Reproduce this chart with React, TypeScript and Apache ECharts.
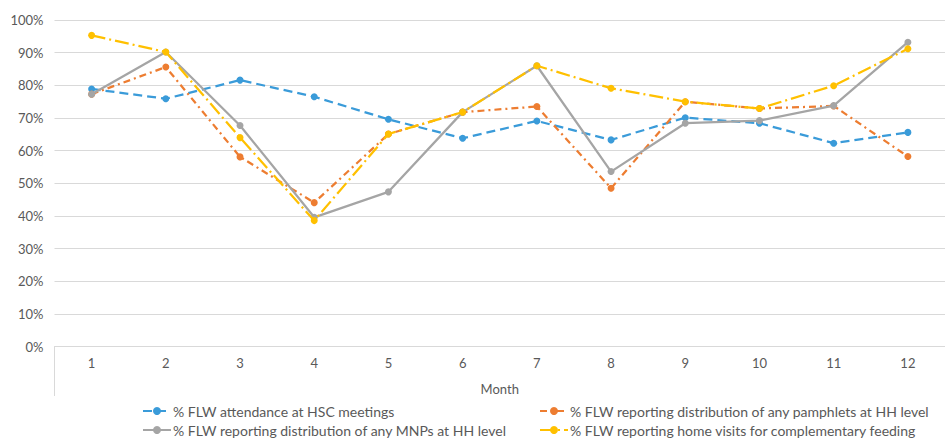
import React, { useEffect, useRef } from "react";
import * as echarts from "echarts";

const months = ["1", "2", "3", "4", "5", "6", "7", "8", "9", "10", "11", "12"];
const seriesNames = [
  "% FLW attendance at HSC meetings",
  "% FLW reporting distribution of any pamphlets at HH level",
  "% FLW reporting distribution of any MNPs at HH level",
  "% FLW reporting home visits for complementary feeding",
];
const hscAttendance = [0.789, 0.759, 0.816, 0.765, 0.696, 0.638, 0.691, 0.633, 0.701, 0.684, 0.623, 0.656];
const pamphlets = [0.773, 0.856, 0.581, 0.441, 0.651, 0.718, 0.735, 0.485, 0.75, 0.729, 0.737, 0.582];
const mnps = [0.773, 0.902, 0.677, 0.396, 0.474, 0.718, 0.86, 0.536, 0.684, 0.692, 0.738, 0.932];
const homeVisits = [0.953, 0.902, 0.64, 0.386, 0.651, 0.718, 0.86, 0.791, 0.75, 0.729, 0.799, 0.912];

const colors = ["#3a9bd9", "#ed7d31", "#a5a5a5", "#ffc000"];
const dashes: any[] = [[9, 5], [7, 4, 2, 4], "solid", [14, 4, 2, 4]];
const values = [hscAttendance, pamphlets, mnps, homeVisits];

export default function App() {
  const ref = useRef<HTMLDivElement>(null);
  useEffect(() => {
    if (!ref.current) return;
    const chart = echarts.init(ref.current, null, { renderer: "svg" });
    const font = "Lato, 'Open Sans', sans-serif";
    const legendCommon = {
      orient: "vertical",
      top: 404,
      height: 60,
      itemGap: 5,
      itemWidth: 28,
      itemHeight: 10,
      padding: 0,
      textStyle: { color: "#595959", fontSize: 14, fontFamily: font, padding: [0, 0, 0, -3] },
    };
    chart.setOption({
      animation: false,
      textStyle: { fontFamily: font },
      grid: { left: 54.5, right: -13, top: 20, bottom: 93.3, containLabel: false },
      legend: [
        { ...legendCommon, data: [seriesNames[0], seriesNames[2]], left: 142 },
        { ...legendCommon, data: [seriesNames[1], seriesNames[3]], left: 539 },
      ],
      xAxis: {
        type: "category",
        data: months,
        boundaryGap: true,
        name: "Month",
        nameLocation: "middle",
        nameGap: 36,
        nameTextStyle: { color: "#595959", fontSize: 13, fontFamily: font },
        axisLine: { lineStyle: { color: "#d9d9d9", width: 1 } },
        axisTick: { show: false },
        axisLabel: { color: "#595959", fontSize: 13, margin: 10, fontFamily: font },
      },
      yAxis: {
        type: "value",
        min: 0,
        max: 1,
        interval: 0.1,
        axisLine: { show: false },
        axisTick: { show: false },
        axisLabel: {
          color: "#595959",
          fontSize: 13,
          margin: 11,
          fontFamily: font,
          formatter: (v: number) => Math.round(v * 100) + "%",
        },
        splitLine: { lineStyle: { color: "#d9d9d9", width: 1 } },
      },
      graphic: [
        {
          type: "line",
          shape: { x1: 54.5, y1: 347, x2: 54.5, y2: 396 },
          style: { stroke: "#d9d9d9", lineWidth: 1 },
          silent: true,
        },
      ],
      series: values.map((d, i) => ({
        name: seriesNames[i],
        type: "line",
        data: d,
        symbol: "circle",
        symbolSize: 7,
        z: i === 3 ? 5 : i === 2 ? 4 : 3,
        itemStyle: { color: colors[i] },
        lineStyle: { color: colors[i], width: 2.25, type: dashes[i] },
      })),
    });
    return () => chart.dispose();
  }, []);
  return <div ref={ref} style={{ width: 945, height: 440, position: "absolute", left: 0, top: 0 }} />;
}
